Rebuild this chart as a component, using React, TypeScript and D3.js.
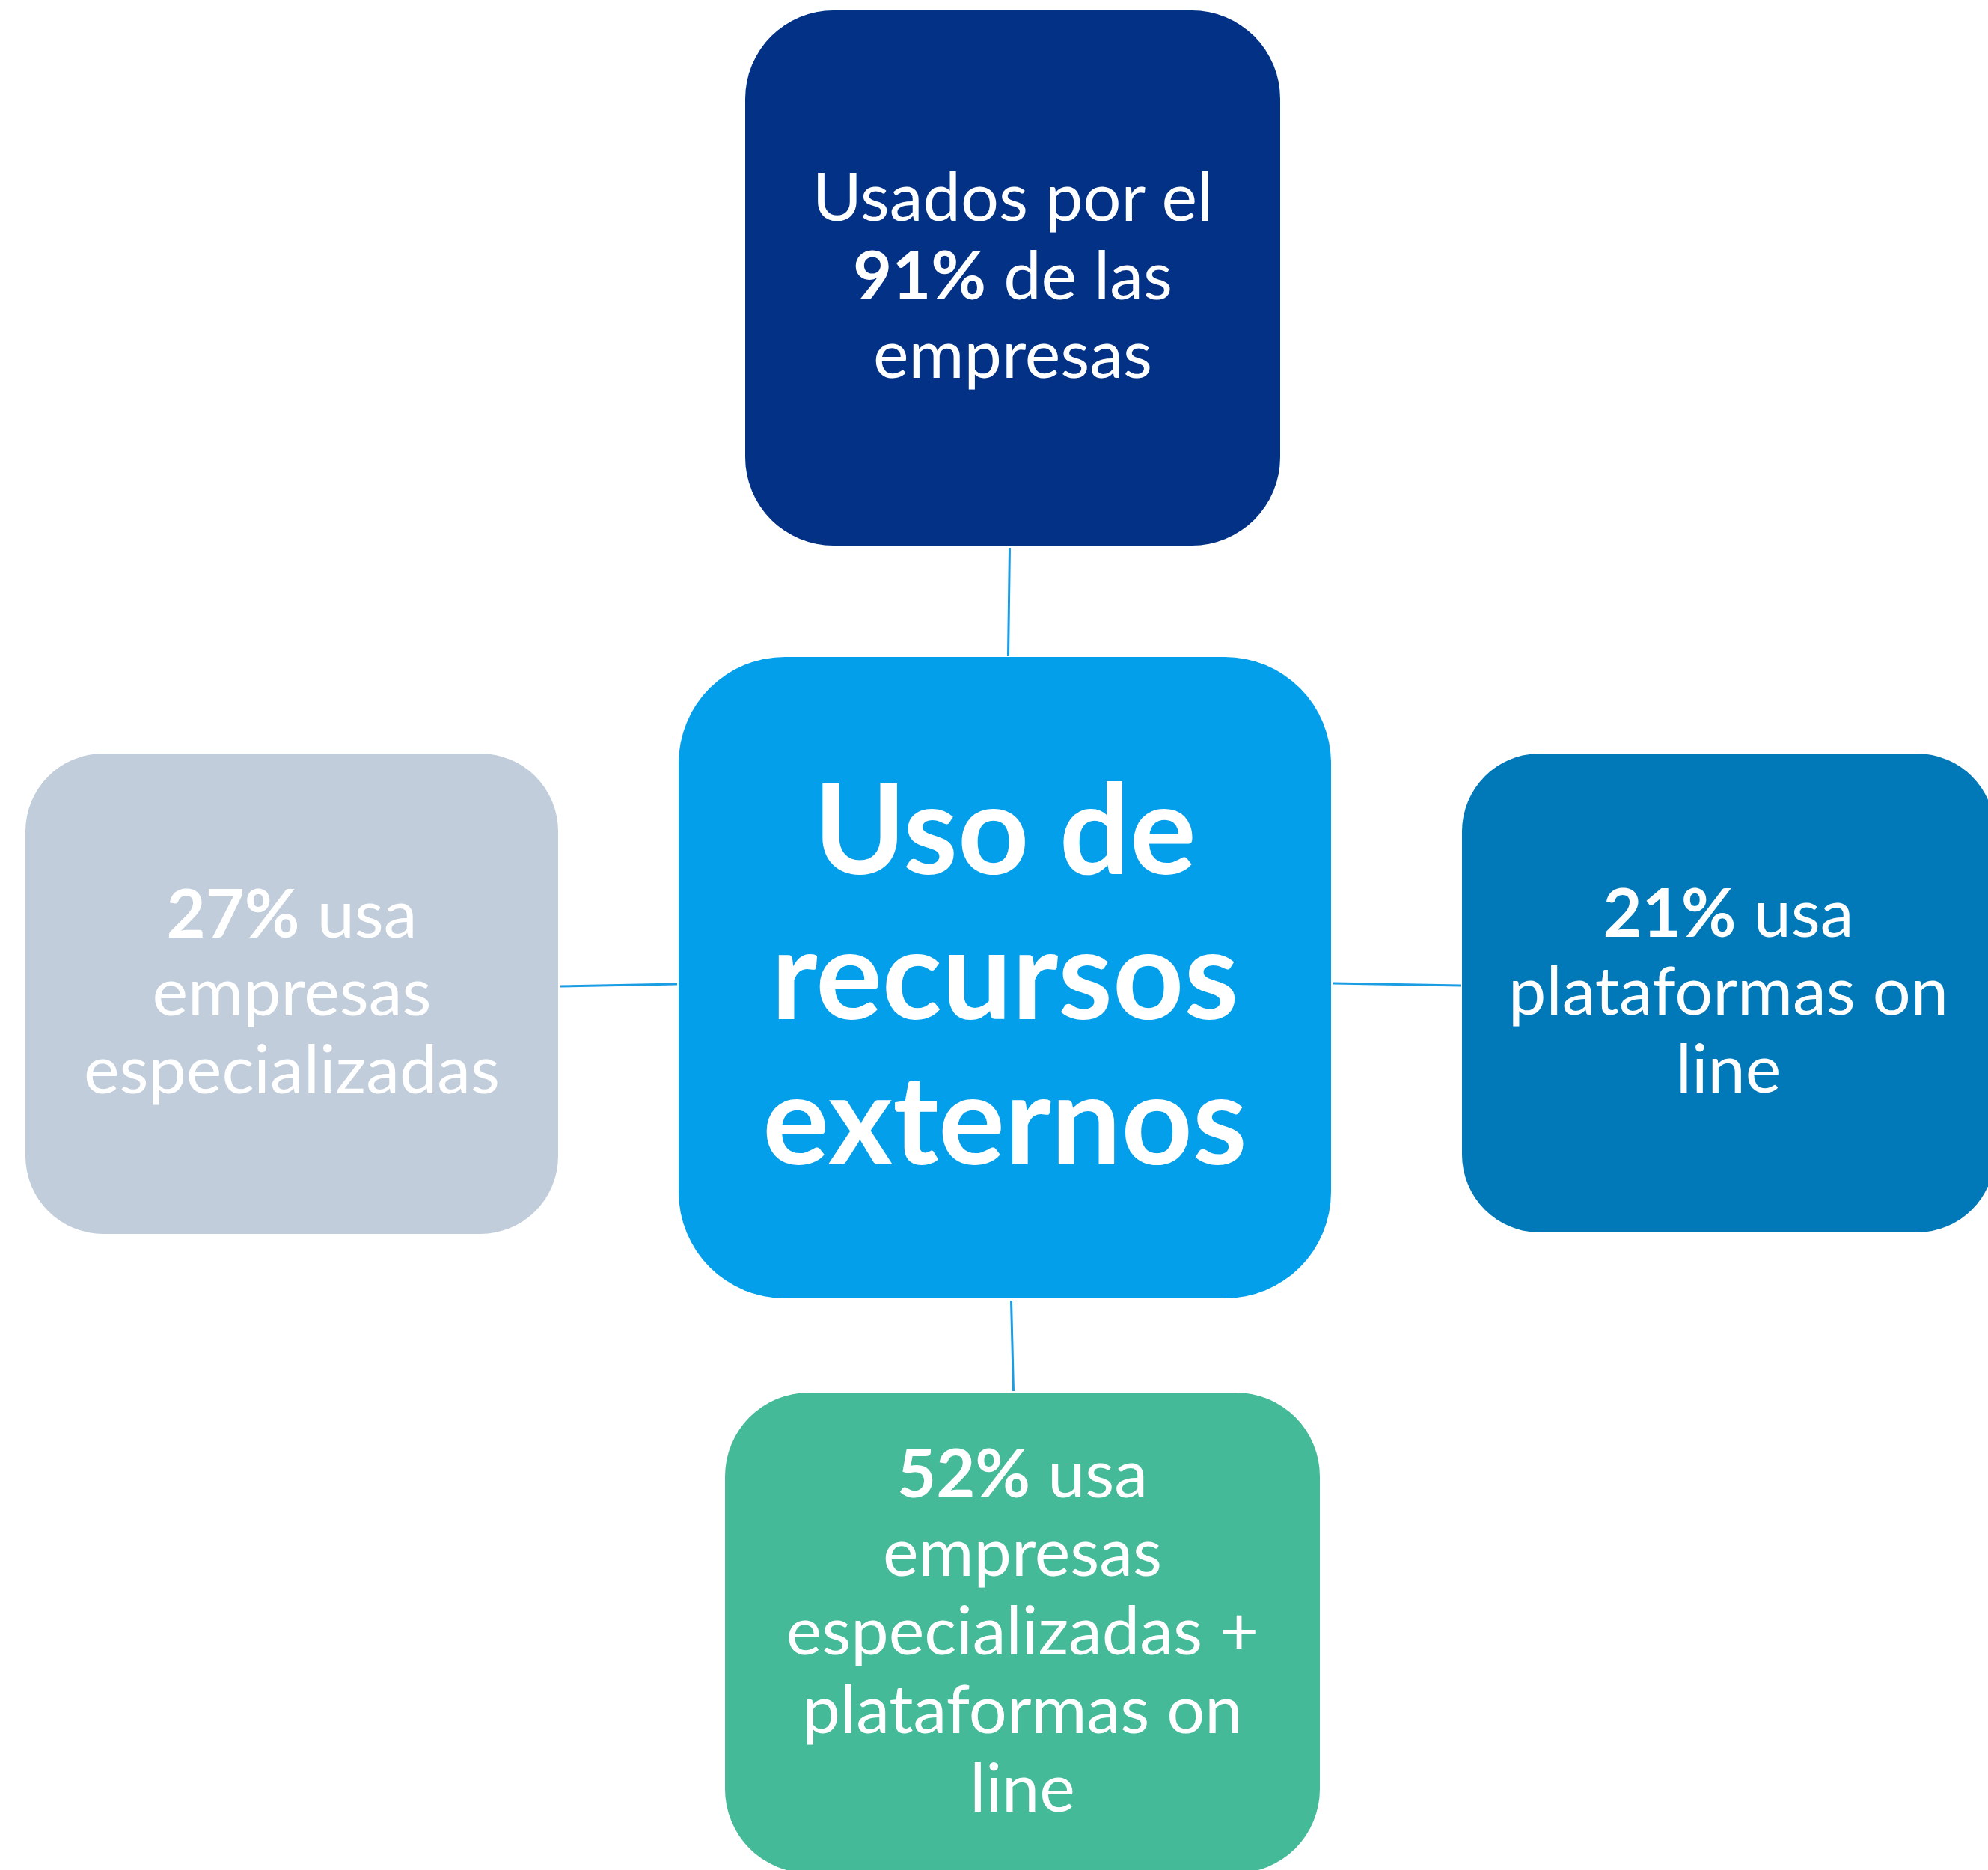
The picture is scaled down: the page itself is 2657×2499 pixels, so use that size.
import * as d3 from "d3";
import { useEffect, useRef } from "react";

// node names and their text (bold parts between ** **)
const nodeIds = ["center", "top", "right", "bottom", "left"];
const nodeLabels = [
  ["**Uso de**", "**recursos**", "**externos**"],
  ["Usados por el", "**91%** de las", "empresas"],
  ["**21%** usa", "plataformas on", "line"],
  ["**52%** usa", "empresas", "especializadas +", "plataformas on", "line"],
  ["**27%** usa", "empresas", "especializadas"],
];
const nodeColors = ["#039FEA", "#023186", "#0178B7", "#45BA98", "#C1CDDA"];

const W = 2657;
const H = 2499;

// layout: box rectangles [x0, y0, x1, y1], radius, font size
const layout: Record<string, { box: number[]; r: number; fs: number; lh: number }> = {
  center: { box: [907, 878, 1779, 1735], r: 142, fs: 166, lh: 194 },
  top: { box: [996, 14, 1711, 729], r: 118, fs: 90, lh: 105 },
  right: { box: [1954, 1007, 2666, 1647], r: 104, fs: 90, lh: 104 },
  bottom: { box: [969, 1861, 1764, 2503], r: 112, fs: 90, lh: 105 },
  left: { box: [34, 1007, 746, 1649], r: 104, fs: 90, lh: 104 },
};

function parse(line: string) {
  return line.split(/(\*\*[^*]+\*\*)/).filter((s) => s.length).map((s) =>
    s.startsWith("**") ? { t: s.slice(2, -2), b: true } : { t: s, b: false }
  );
}

function Diagram() {
  const ref = useRef<SVGSVGElement | null>(null);

  useEffect(() => {
    document.body.style.margin = "0";
    const svg = d3.select(ref.current);
    svg.selectAll("*").remove();

    const nodes = nodeIds.map((id, i) => ({
      id,
      lines: nodeLabels[i],
      color: nodeColors[i],
      ...layout[id],
    }));
    const center = nodes[0];
    const cb = center.box;

    // connectors from the center box edge to each satellite box edge
    const links = nodes.slice(1).map((n) => {
      const b = n.box;
      const mx = (b[0] + b[2]) / 2;
      const my = (b[1] + b[3]) / 2;
      if (n.id === "top") return [[mx - 4, b[3] + 3], [mx - 6, cb[1] - 2]];
      if (n.id === "bottom") return [[mx - 12, b[1] - 2], [mx - 15, cb[3] + 3]];
      if (n.id === "left") return [[b[2] + 3, my - 10], [cb[0] - 2, my - 13]];
      return [[b[0] - 2, my - 10], [cb[2] + 3, my - 13]];
    });

    svg
      .append("g")
      .selectAll("line")
      .data(links)
      .join("line")
      .attr("x1", (d) => d[0][0])
      .attr("y1", (d) => d[0][1])
      .attr("x2", (d) => d[1][0])
      .attr("y2", (d) => d[1][1])
      .attr("stroke", "#1A9DE3")
      .attr("stroke-width", 3);

    const g = svg
      .append("g")
      .selectAll("g")
      .data(nodes)
      .join("g");

    g.append("rect")
      .attr("x", (d) => d.box[0])
      .attr("y", (d) => d.box[1])
      .attr("width", (d) => d.box[2] - d.box[0])
      .attr("height", (d) => d.box[3] - d.box[1])
      .attr("rx", (d) => d.r)
      .attr("fill", (d) => d.color);

    g.each(function (d) {
      const cx = (d.box[0] + d.box[2]) / 2;
      const cy = (d.box[1] + d.box[3]) / 2;
      const n = d.lines.length;
      const text = d3
        .select(this)
        .append("text")
        .attr("text-anchor", "middle")
        .attr("font-family", "Lato, 'Open Sans', sans-serif")
        .attr("font-size", d.fs)
        .attr("fill", "#FFFFFF");
      d.lines.forEach((line, i) => {
        const y = cy + (i - (n - 1) / 2) * d.lh + d.fs * 0.35 - 3;
        const tl = text.append("tspan").attr("x", cx).attr("y", y);
        parse(line).forEach((seg) => {
          tl.append("tspan")
            .attr("font-weight", seg.b ? 700 : 400)
            .text(seg.t);
        });
      });
    });
  }, []);

  return <svg ref={ref} width={W} height={H} style={{ display: "block", background: "#fff" }}></svg>;
}

export default function App() {
  return <Diagram />;
}
